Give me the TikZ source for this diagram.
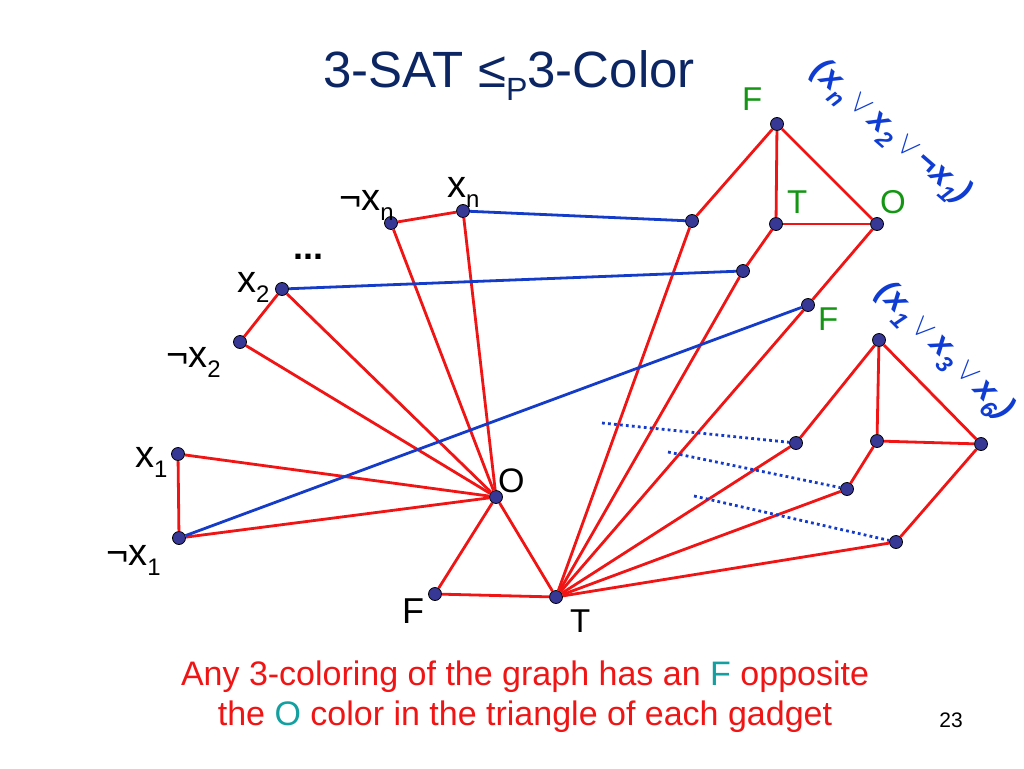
\documentclass[tikz,border=0pt]{standalone}
\usepackage{fontspec}
\setmainfont{Liberation Sans}
\usepackage{graphicx}

\definecolor{titleblue}{RGB}{12,38,100}
\definecolor{edgered}{RGB}{240,20,20}
\definecolor{linkblue}{RGB}{20,60,200}
\definecolor{dotblue}{RGB}{55,55,150}
\definecolor{colgreen}{RGB}{20,150,20}
\definecolor{noteteal}{RGB}{20,160,160}
\definecolor{clauseblue}{RGB}{15,60,210}

\newcommand{\lsub}[1]{\raisebox{-0.27em}{\scalebox{0.63}{#1}}}
\newcommand{\csub}[1]{\raisebox{-0.3em}{\scalebox{0.7}{#1}}}
\newcommand{\cor}{\,\scalebox{1.25}{$\vee$}\,}
\newcommand{\fs}[1]{\fontsize{#1}{#1}\selectfont}

\begin{document}
\begin{tikzpicture}[x=1pt,y=-1pt,
  vtx/.style={circle,draw=black,line width=0.8pt,fill=dotblue,inner sep=0pt,minimum size=13pt},
  wire/.style={draw=edgered,line width=2.8pt},
  link/.style={draw=linkblue,line width=2.8pt},
  hint/.style={draw=linkblue,line width=2.8pt,dash pattern=on 2.8pt off 3.2pt},
  lit/.style={inner sep=0pt,font=\fs{38}},
  col/.style={inner sep=0pt,font=\fs{33},text=colgreen},
  clause/.style={inner sep=0pt,font=\fs{33}\bfseries\itshape,text=clauseblue}]
  \useasboundingbox (0,0) rectangle (1024,768);

  % title
  \node[inner sep=0pt,anchor=base west,font=\fs{51},text=titleblue] (title) at (323,87)
    {3-SAT ≤\lsub{P}3-Color};

  % variables
  \node[vtx] (xn) at (463,211) {};
  \node[vtx] (nxn) at (391,223) {};
  \node[vtx] (x2) at (282,289) {};
  \node[vtx] (nx2) at (240,342) {};
  \node[vtx] (x1) at (178,454) {};
  \node[vtx] (nx1) at (179,538) {};
  \node[vtx] (O) at (496,497) {};
  \node[vtx] (F) at (435,594) {};
  \node[vtx] (T) at (556,597) {};

  \node[lit,anchor=base west] (lxn) at (447,197) {x\lsub{n}};
  \node[lit,anchor=base west] (lnxn) at (339,210) {¬x\lsub{n}};
  \node[lit,anchor=base west] (lx2) at (237,292) {x\lsub{2}};
  \node[lit,anchor=base west] (lnx2) at (166,367) {¬x\lsub{2}};
  \node[lit,anchor=base west] (lx1) at (135,467) {x\lsub{1}};
  \node[lit,anchor=base west] (lnx1) at (106,565) {¬x\lsub{1}};
  \node[inner sep=0pt,anchor=base,font=\fs{36}\bfseries] (ldots) at (308,259) {...};
  \node[inner sep=0pt,anchor=base west,font=\fs{34}] (lO) at (498,492) {O};
  \node[inner sep=0pt,anchor=base west,font=\fs{36}] (lF) at (402,623) {F};
  \node[inner sep=0pt,anchor=base west,font=\fs{33}] (lT) at (570,632) {T};

  % first clause gadget
  \node[vtx] (a-top) at (777,124) {};
  \node[vtx] (a-mid) at (776,224) {};
  \node[vtx] (a-right) at (877,224) {};
  \node[vtx] (a-in1) at (692,221) {};
  \node[vtx] (a-in2) at (743,271) {};
  \node[vtx] (a-in3) at (808,305) {};

  \node[col,anchor=base west] (ca-top) at (742,110) {F};
  \node[col,anchor=base west] (ca-mid) at (787,213) {T};
  \node[col,anchor=base west] (ca-right) at (880,213) {O};
  \node[col,anchor=base west] (ca-in3) at (818,330) {F};
  \node[clause,rotate=-41] (clause-a) at (890,133)
    {(x\csub{n}\cor x\csub{2}\cor ¬x\csub{1})};

  % second clause gadget
  \node[vtx] (b-top) at (879,340) {};
  \node[vtx] (b-mid) at (877,441) {};
  \node[vtx] (b-right) at (981,444) {};
  \node[vtx] (b-in1) at (796,443) {};
  \node[vtx] (b-in2) at (847,489) {};
  \node[vtx] (b-in3) at (896,542) {};

  \node[clause,rotate=-45] (clause-b) at (944,352)
    {(x\csub{1}\cor x\csub{3}\cor x\csub{6})};

  \coordinate (b-from1) at (602,423);
  \coordinate (b-from2) at (668,452);
  \coordinate (b-from3) at (694,496);

  % edges
  \draw[wire] (xn) -- (nxn);
  \draw[wire] (xn) -- (O);
  \draw[wire] (nxn) -- (O);
  \draw[wire] (x2) -- (nx2);
  \draw[wire] (x2) -- (O);
  \draw[wire] (nx2) -- (O);
  \draw[wire] (x1) -- (nx1);
  \draw[wire] (x1) -- (O);
  \draw[wire] (nx1) -- (O);
  \draw[wire] (O) -- (F);
  \draw[wire] (F) -- (T);
  \draw[wire] (O) -- (T);

  \draw[wire] (a-top) -- (a-mid);
  \draw[wire] (a-mid) -- (a-right);
  \draw[wire] (a-top) -- (a-right);
  \draw[wire] (a-in1) -- (a-top);
  \draw[wire] (a-in2) -- (a-mid);
  \draw[wire] (a-in3) -- (a-right);
  \draw[wire] (T) -- (a-in1);
  \draw[wire] (T) -- (a-in2);
  \draw[wire] (T) -- (a-in3);

  \draw[wire] (b-top) -- (b-mid);
  \draw[wire] (b-mid) -- (b-right);
  \draw[wire] (b-top) -- (b-right);
  \draw[wire] (b-in1) -- (b-top);
  \draw[wire] (b-in2) -- (b-mid);
  \draw[wire] (b-in3) -- (b-right);
  \draw[wire] (T) -- (b-in1);
  \draw[wire] (T) -- (b-in2);
  \draw[wire] (T) -- (b-in3);

  \draw[link] (xn) -- (a-in1);
  \draw[link] (x2) -- (a-in2);
  \draw[link] (nx1) -- (a-in3);

  \draw[hint] (b-from1) -- (b-in1);
  \draw[hint] (b-from2) -- (b-in2);
  \draw[hint] (b-from3) -- (b-in3);

  % note
  \node[inner sep=0pt,anchor=base,font=\fs{34},text=edgered] (note1) at (525,685)
    {Any 3-coloring of the graph has an \textcolor{noteteal}{F} opposite};
  \node[inner sep=0pt,anchor=base,font=\fs{34},text=edgered] (note2) at (525,725)
    {the \textcolor{noteteal}{O} color in the triangle of each gadget};
  \node[inner sep=0pt,anchor=base,font=\fs{21}] (page) at (951,727) {23};
\end{tikzpicture}
\end{document}
